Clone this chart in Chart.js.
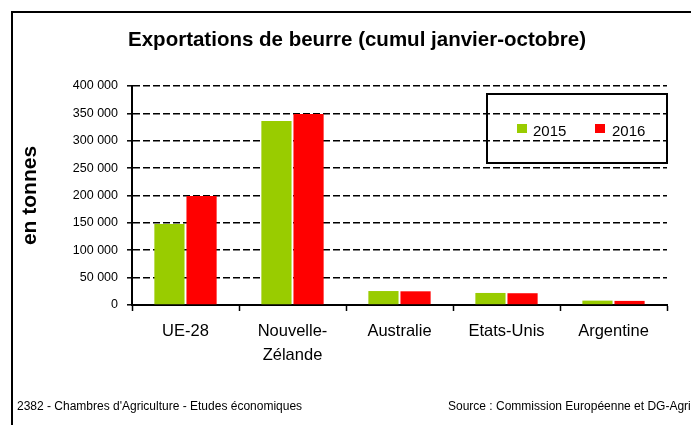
<!DOCTYPE html>
<html>
<head>
<meta charset="utf-8">
<script src="https://cdn.jsdelivr.net/npm/chart.js@4"></script>
<style>
  html, body { margin: 0; padding: 0; background: #ffffff; }
  #wrap { width: 691px; height: 425px; position: relative; }
  canvas { display: block; }
</style>
</head>
<body>
<div id="wrap"><canvas id="c" width="691" height="425"></canvas></div>
<script>
// ---- data ----
const categories = ['UE-28', ['Nouvelle-', 'Zélande'], 'Australie', 'Etats-Unis', 'Argentine'];
const seriesLabels = ['2015', '2016'];
const values2015 = [148000, 336000, 25500, 22000, 8000];
const values2016 = [199000, 349000, 25000, 21500, 7500];
const yTickValues = [0, 50000, 100000, 150000, 200000, 250000, 300000, 350000, 400000];
const titleText = 'Exportations de beurre (cumul janvier-octobre)';
const yTitleText = 'en tonnes';
const footerLeft = "2382 - Chambres d'Agriculture - Etudes économiques";
const footerRight = 'Source : Commission Européenne et DG-Agri';

const GREEN = '#99cc00';
const RED = '#ff0000';
const FONT = '"Liberation Sans", Arial, sans-serif';

function fmt(v) {
  return String(v).replace(/\B(?=(\d{3})+(?!\d))/g, ' ');
}

const decor = {
  id: 'decor',
  afterDraw(chart) {
    const ctx = chart.ctx;
    const ca = chart.chartArea;
    ctx.save();
    // outer frame (cut off at right and bottom)
    ctx.strokeStyle = '#000';
    ctx.lineWidth = 2;
    ctx.beginPath();
    ctx.moveTo(12, 440);
    ctx.lineTo(12, 12);
    ctx.lineTo(700, 12);
    ctx.stroke();

    // title
    ctx.fillStyle = '#000';
    ctx.font = 'bold 20.5px ' + FONT;
    ctx.textAlign = 'center';
    ctx.textBaseline = 'alphabetic';
    ctx.fillText(titleText, 357, 46);

    // legend box
    const lx = 487, ly = 94, lw = ca.right - 487, lh = 69;
    ctx.lineWidth = 2;
    ctx.strokeRect(lx, ly, lw, lh);
    ctx.font = '15px ' + FONT;
    ctx.textAlign = 'left';
    const items = [[517, 533], [595, 612]];
    chart.data.datasets.forEach((ds, i) => {
      ctx.fillStyle = ds.backgroundColor;
      ctx.fillRect(items[i][0], 124, 10, 9);
      ctx.fillStyle = '#000';
      ctx.fillText(ds.label, items[i][1], 135.5);
    });

    // footers
    ctx.font = '12px ' + FONT;
    ctx.fillStyle = '#000';
    ctx.fillText(footerLeft, 17, 410);
    ctx.fillText(footerRight, 448, 410);
    ctx.restore();
  }
};

new Chart(document.getElementById('c'), {
  type: 'bar',
  data: {
    labels: categories,
    datasets: [
      { label: seriesLabels[0], data: values2015, backgroundColor: GREEN, borderWidth: 0 },
      { label: seriesLabels[1], data: values2016, backgroundColor: RED, borderWidth: 0 }
    ]
  },
  options: {
    responsive: false,
    animation: false,
    devicePixelRatio: 1,
    layout: { padding: { left: 0, right: 24, top: 86, bottom: 0 } },
    datasets: { bar: { categoryPercentage: 0.6, barPercentage: 0.94 } },
    plugins: {
      legend: { display: false },
      title: { display: false },
      tooltip: { enabled: false }
    },
    scales: {
      x: {
        grid: {
          display: true,
          drawOnChartArea: false,
          drawTicks: true,
          tickLength: 6,
          tickColor: '#000',
          tickWidth: 1.5,
          offset: true
        },
        border: { display: true, color: '#000', width: 2 },
        ticks: {
          color: '#000',
          padding: 8,
          font: { family: FONT, size: 16.5, lineHeight: 1.4545 }
        },
        afterFit(scale) { scale.height = 120; }
      },
      y: {
        min: 0,
        max: 400000,
        afterBuildTicks(scale) { scale.ticks = yTickValues.map(v => ({ value: v })); },
        grid: {
          color: '#000',
          lineWidth: 1.6,
          drawTicks: true,
          tickLength: 5,
          tickColor: '#000',
          tickWidth: 1.5,
          tickBorderDash: []
        },
        border: { display: true, color: '#000', width: 2, dash: [7, 3] },
        ticks: {
          color: '#000',
          padding: 9,
          font: { family: FONT, size: 12.5 },
          callback: (v) => fmt(v)
        },
        title: {
          display: true,
          text: yTitleText,
          color: '#000',
          padding: { top: 18, bottom: 0 },
          font: { family: FONT, size: 21, weight: 'bold' }
        },
        afterFit(scale) { scale.width = 132; }
      }
    }
  },
  plugins: [decor]
});
</script>
</body>
</html>
